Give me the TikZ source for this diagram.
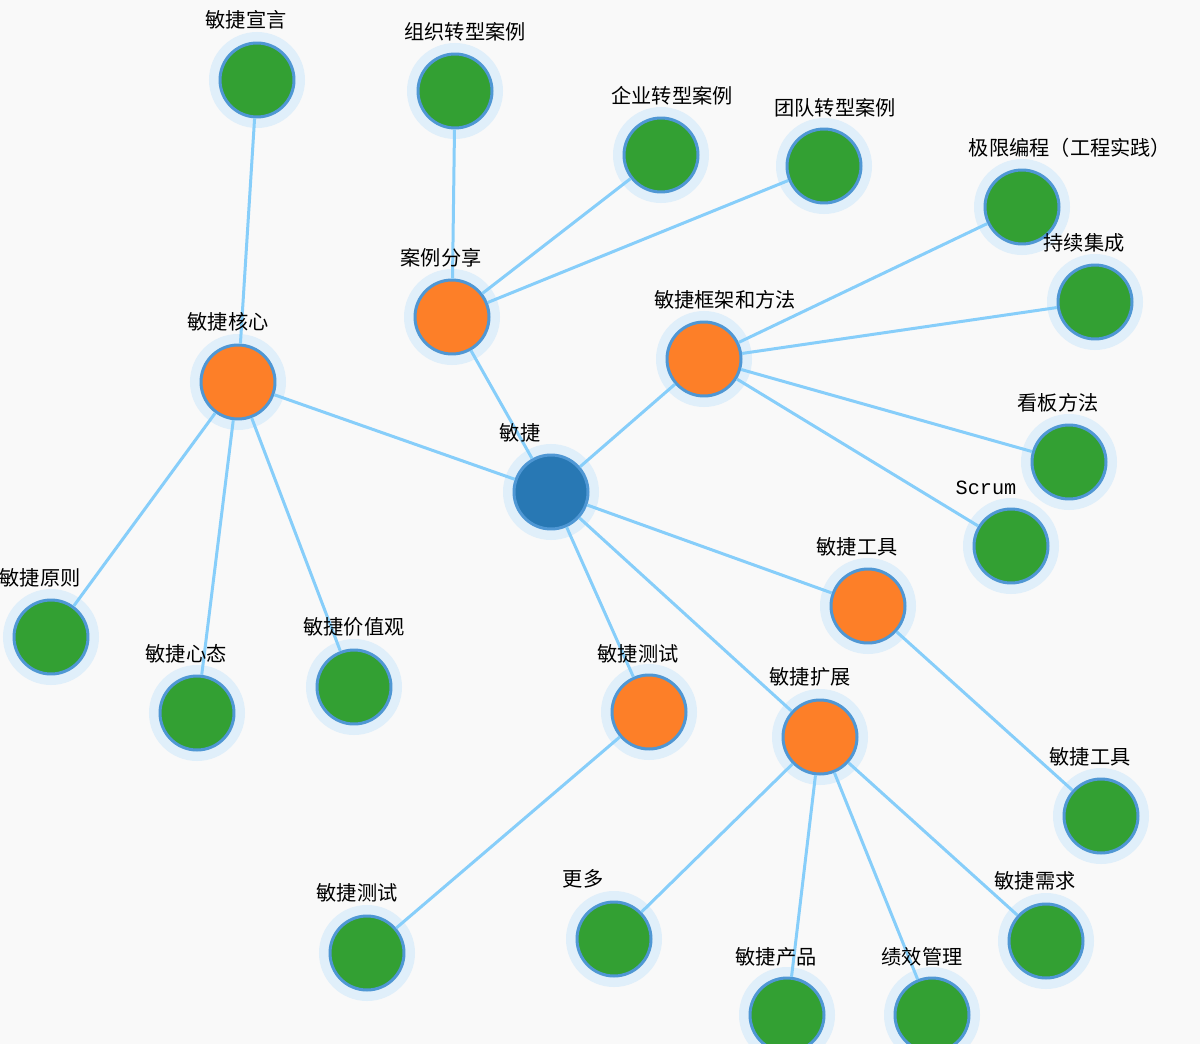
\documentclass[tikz,border=0pt]{standalone}
\usepackage{fontspec}
\setmainfont{Noto Sans CJK SC}
\newfontfamily\monofont{Liberation Mono}
\usepackage{tikz}
\definecolor{pagegray}{HTML}{F9F9F9}
\definecolor{rootblue}{HTML}{2878B4}
\definecolor{huborange}{HTML}{FD7F28}
\definecolor{leafgreen}{HTML}{33A033}
\definecolor{ringblue}{HTML}{4F97D4}
\definecolor{haloblue}{HTML}{E0EFFA}
\definecolor{linkblue}{HTML}{87CEFA}
\tikzset{
	bubble/.style={circle, inner sep=0pt, minimum size=1.48cm, draw=ringblue, line width=0.06cm,
		preaction={draw=haloblue, line width=0.44cm}},
	rootnode/.style={bubble, fill=rootblue},
	hubnode/.style={bubble, fill=huborange},
	leafnode/.style={bubble, fill=leafgreen},
	link/.style={draw=linkblue, line width=0.06cm},
	tag/.style={inner sep=0pt, font=\fontsize{11.5pt}{13pt}\selectfont, text=black}
}

\begin{document}
\begin{tikzpicture}[x=0.02cm, y=-0.02cm]
				\fill[pagegray] (0,0) rectangle (1200,1044);
				\useasboundingbox (0,0) rectangle (1200,1044);

				% centre and second level
				\node[rootnode] (root) at (551,492) {};
				\node[hubnode] (share) at (452,317) {};
				\node[hubnode] (core) at (238,382) {};
				\node[hubnode] (frame) at (704,359) {};
				\node[hubnode] (toolhub) at (868,606) {};
				\node[hubnode] (testhub) at (649,712) {};
				\node[hubnode] (extend) at (820,737) {};

				% leaves
				\node[leafnode] (manifesto) at (257,80) {};
				\node[leafnode] (orgcase) at (455,91) {};
				\node[leafnode] (entcase) at (661,155) {};
				\node[leafnode] (teamcase) at (824,166) {};
				\node[leafnode] (xp) at (1022,207) {};
				\node[leafnode] (ci) at (1095,302) {};
				\node[leafnode] (kanban) at (1069,462) {};
				\node[leafnode] (scrum) at (1011,546) {};
				\node[leafnode] (principle) at (51,637) {};
				\node[leafnode] (mindset) at (197,713) {};
				\node[leafnode] (values) at (354,687) {};
				\node[leafnode] (tool) at (1101,816) {};
				\node[leafnode] (test) at (367,953) {};
				\node[leafnode] (more) at (614,939) {};
				\node[leafnode] (product) at (787,1015) {};
				\node[leafnode] (perf) at (932,1015) {};
				\node[leafnode] (req) at (1046,941) {};

				% links
				\draw[link] (root) -- (share);
				\draw[link] (root) -- (core);
				\draw[link] (root) -- (frame);
				\draw[link] (root) -- (toolhub);
				\draw[link] (root) -- (testhub);
				\draw[link] (root) -- (extend);
				\draw[link] (share) -- (orgcase);
				\draw[link] (share) -- (entcase);
				\draw[link] (share) -- (teamcase);
				\draw[link] (core) -- (manifesto);
				\draw[link] (core) -- (principle);
				\draw[link] (core) -- (mindset);
				\draw[link] (core) -- (values);
				\draw[link] (frame) -- (xp);
				\draw[link] (frame) -- (ci);
				\draw[link] (frame) -- (kanban);
				\draw[link] (frame) -- (scrum);
				\draw[link] (toolhub) -- (tool);
				\draw[link] (testhub) -- (test);
				\draw[link] (extend) -- (more);
				\draw[link] (extend) -- (product);
				\draw[link] (extend) -- (perf);
				\draw[link] (extend) -- (req);

				% labels
				\node[tag] (t-root) at (520,433) {敏捷};
				\node[tag] (t-share) at (441,258) {案例分享};
				\node[tag] (t-core) at (228,322) {敏捷核心};
				\node[tag] (t-frame) at (725,300) {敏捷框架和方法};
				\node[tag] (t-toolhub) at (857,547) {敏捷工具};
				\node[tag] (t-testhub) at (638,654) {敏捷测试};
				\node[tag] (t-extend) at (810,677) {敏捷扩展};
				\node[tag] (t-manifesto) at (246,20) {敏捷宣言};
				\node[tag] (t-orgcase) at (465,32) {组织转型案例};
				\node[tag] (t-entcase) at (672,96) {企业转型案例};
				\node[tag] (t-teamcase) at (835,108) {团队转型案例};
				\node[tag] (t-xp) at (1070,148) {极限编程（工程实践）};
				\node[tag] (t-ci) at (1084,243) {持续集成};
				\node[tag] (t-kanban) at (1058,403) {看板方法};
				\node[tag] (t-scrum) at (986,488) {\monofont Scrum};
				\node[tag] (t-principle) at (40,578) {敏捷原则};
				\node[tag] (t-mindset) at (186,654) {敏捷心态};
				\node[tag] (t-values) at (354,627) {敏捷价值观};
				\node[tag] (t-tool) at (1090,757) {敏捷工具};
				\node[tag] (t-test) at (357,893) {敏捷测试};
				\node[tag] (t-more) at (583,879) {更多};
				\node[tag] (t-product) at (776,957) {敏捷产品};
				\node[tag] (t-perf) at (922,957) {绩效管理};
				\node[tag] (t-req) at (1035,881) {敏捷需求};
			\end{tikzpicture}
\end{document}
